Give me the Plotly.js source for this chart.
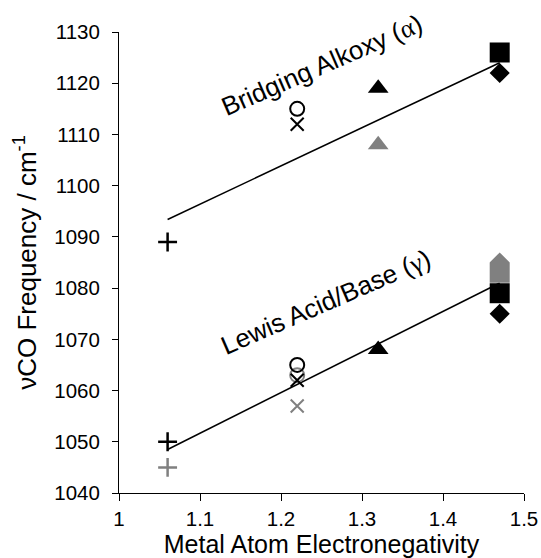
<!DOCTYPE html>
<html>
<head>
<meta charset="utf-8">
<script src="https://cdn.plot.ly/plotly-3.0.1.min.js"></script>
<style>html,body{margin:0;padding:0;background:#fff;}#chart{width:541px;height:558px;}</style>
</head>
<body>
<div id="chart"></div>
<script>
// Electronegativity positions
const enK = 1.06, enNa = 1.22, enLi = 1.32, enMg = 1.47;

// Trendline end points
const trendX = [1.06, 1.47];
const trendAlpha = [1093.4, 1124.0];
const trendGamma = [1048.5, 1081.0];

// Black series (alpha band, gamma band)
const plusBlackX = [enK, enK];          const plusBlackY = [1089, 1050];
const circleBlackX = [enNa, enNa];      const circleBlackY = [1115, 1065];
const xBlackX = [enNa, enNa];           const xBlackY = [1112, 1062];
const triBlackX = [enLi, enLi];         const triBlackY = [1119, 1068];
const squareBlackX = [enMg, enMg];      const squareBlackY = [1126, 1079];
const diamondBlackX = [enMg, enMg];     const diamondBlackY = [1122, 1075];

// Gray series
const plusGrayX = [enK];                const plusGrayY = [1045];
const circleGrayX = [enNa];             const circleGrayY = [1063];
const xGrayX = [enNa];                  const xGrayY = [1057];
const triGrayX = [enLi];                const triGrayY = [1108];
const diamondGrayX = [enMg];            const diamondGrayY = [1085];
const squareGrayX = [enMg];             const squareGrayY = [1083];

const xTicks = [1, 1.1, 1.2, 1.3, 1.4, 1.5];
const xTickText = ['1', '1.1', '1.2', '1.3', '1.4', '1.5'];
const yTicks = [1040, 1050, 1060, 1070, 1080, 1090, 1100, 1110, 1120, 1130];

const FONT = 'Liberation Sans, Arial, sans-serif';
const BLACK = '#000000', GRAY = '#808080';

function mk(x, y, symbol, color, size, lw, open) {
  return {
    x: x, y: y, type: 'scatter', mode: 'markers', showlegend: false, hoverinfo: 'skip',
    marker: open
      ? {symbol: symbol, size: size, color: color, line: {color: color, width: lw}}
      : {symbol: symbol, size: size, color: color, line: {width: 0}}
  };
}

const traces = [
  {x: trendX, y: trendAlpha, type: 'scatter', mode: 'lines', line: {color: BLACK, width: 1.5}, showlegend: false, hoverinfo: 'skip'},
  {x: trendX, y: trendGamma, type: 'scatter', mode: 'lines', line: {color: BLACK, width: 1.5}, showlegend: false, hoverinfo: 'skip'},
  mk(diamondGrayX, diamondGrayY, 'diamond', GRAY, 15.5, 0, false),
  mk(squareGrayX, squareGrayY, 'square', GRAY, 20, 0, false),
  mk(triGrayX, triGrayY, 'triangle-up', GRAY, 18, 0, false),
  mk(plusGrayX, plusGrayY, 'cross-thin-open', GRAY, 13.5, 2.5, true),
  mk(circleGrayX, circleGrayY, 'circle-open', GRAY, 14, 2, true),
  mk(xGrayX, xGrayY, 'x-thin-open', GRAY, 13, 2, true),
  mk(plusBlackX, plusBlackY, 'cross-thin-open', BLACK, 13.5, 2.5, true),
  mk(circleBlackX, circleBlackY, 'circle-open', BLACK, 14, 2, true),
  mk(xBlackX, xBlackY, 'x-thin-open', BLACK, 13, 2, true),
  mk(triBlackX, triBlackY, 'triangle-up', BLACK, 18, 0, false),
  mk(squareBlackX, squareBlackY, 'square', BLACK, 20, 0, false),
  mk(diamondBlackX, diamondBlackY, 'diamond', BLACK, 15.5, 0, false)
];

const layout = {
  width: 541, height: 558,
  margin: {l: 119, r: 17, t: 32, b: 65},
  paper_bgcolor: '#ffffff', plot_bgcolor: '#ffffff',
  font: {family: FONT, color: BLACK, size: 20},
  showlegend: false,
  xaxis: {
    range: [1, 1.5], tickvals: xTicks, ticktext: xTickText,
    showgrid: false, zeroline: false, showline: true, linecolor: BLACK, linewidth: 1,
    ticks: 'outside', ticklen: 7, tickcolor: BLACK, tickwidth: 1,
    tickfont: {family: FONT, size: 20.5, color: BLACK},
    title: {text: 'Metal Atom Electronegativity', font: {family: FONT, size: 25, color: BLACK}, standoff: 4}
  },
  yaxis: {
    range: [1040, 1130], tickvals: yTicks,
    showgrid: false, zeroline: false, showline: true, linecolor: BLACK, linewidth: 1,
    ticks: 'outside', ticklen: 6, tickcolor: BLACK, tickwidth: 1, ticklabelstandoff: 8,
    tickfont: {family: FONT, size: 20.5, color: BLACK},
    title: {text: 'νCO Frequency / cm<sup>-1</sup>', font: {family: FONT, size: 26, color: BLACK}, standoff: 10}
  },
  annotations: [
    {x: 1.2506, y: 1123.5, xref: 'x', yref: 'y', showarrow: false, textangle: -23.5,
     text: 'Bridging Alkoxy (<span style="font-family:Liberation Serif">α</span>)',
     font: {family: FONT, size: 26, color: BLACK}},
    {x: 1.255, y: 1077.3, xref: 'x', yref: 'y', showarrow: false, textangle: -23.5,
     text: 'Lewis Acid/Base (<span style="font-family:Liberation Serif">γ</span>)',
     font: {family: FONT, size: 26, color: BLACK}}
  ]
};

Plotly.newPlot('chart', traces, layout, {displayModeBar: false, staticPlot: true});
</script>
</body>
</html>
